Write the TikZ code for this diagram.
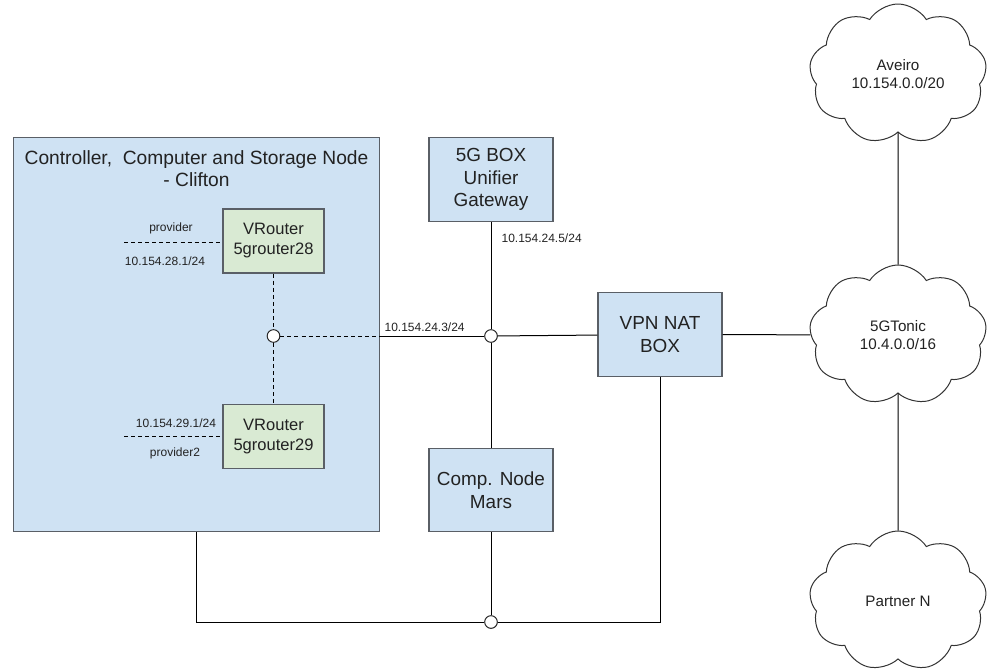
\documentclass[tikz,border=0pt]{standalone}
\usepackage{fontspec}
\setmainfont{Liberation Sans}
\usetikzlibrary{positioning, shapes.symbols, calc}

\definecolor{nodeblue}{HTML}{CFE2F3}
\definecolor{routergreen}{HTML}{D9EAD3}
\definecolor{boxgray}{HTML}{5A5F66}
\definecolor{textgray}{HTML}{222222}

\begin{document}
\begin{tikzpicture}[x=0.75pt, y=-0.75pt]

  % --- 定義樣式 ---
  \tikzset{
    % 主機方塊:藍底、灰框
    hostbox/.style={
      draw=boxgray,
      line width=0.9pt,
      fill=nodeblue,
      text=textgray,
      font=\fontsize{14.2}{17}\selectfont,
      align=center,
      minimum width=93pt,
      minimum height=62.5pt,
      inner sep=2pt
    },
    % 虛擬路由器:綠底
    routerbox/.style={
      hostbox,
      fill=routergreen,
      font=\fontsize{12.4}{15}\selectfont,
      minimum width=75.75pt,
      minimum height=48pt
    },
    % 外部網路雲
    cloudnet/.style={
      cloud,
      cloud puffs=9,
      cloud puff arc=115,
      cloud ignores aspect,
      draw=black!80,
      line width=0.75pt,
      fill=white,
      text=textgray,
      font=\fontsize{11.4}{13.8}\selectfont,
      align=center,
      minimum width=133pt,
      minimum height=105pt
    },
    % 線路交會點的小圓圈
    junction/.style={
      circle,
      draw=black!85,
      line width=0.75pt,
      fill=white,
      minimum size=9.5pt,
      inner sep=0pt
    },
    % IP 位址與介面名稱
    iplabel/.style={
      text=textgray,
      font=\fontsize{9}{10}\selectfont,
      inner sep=1pt
    },
    link/.style={draw=black, line width=0.75pt},
    vlan/.style={link, dash pattern=on 3pt off 2.3pt}
  }

  \useasboundingbox (0,0) rectangle (987,671);

  % --- 控制節點大框 ---
  \node[hostbox, minimum width=275pt, minimum height=295.5pt] (clifton) at (196.5,334.5) {};
  \node[text=textgray, font=\fontsize{14.4}{16.5}\selectfont, align=center, inner sep=0pt,
        below=10pt of clifton.north] (cliftontitle) {Controller,\ \ Computer and Storage Node\\- Clifton};

  % --- 兩台虛擬路由器 ---
  \node[routerbox] (vr28) at (273.5,241) {VRouter\\5grouter28};
  \node[routerbox, below=98pt of vr28] (vr29) {VRouter\\5grouter29};

  % --- 其他主機 ---
  \node[hostbox] (fiveg) at (491,179.5) {5G BOX\\Unifier\\Gateway};
  \node[hostbox] (mars) at (491,490) {Comp. Node\\Mars};
  \node[hostbox] (vpn) at (660,334.5) {VPN NAT\\BOX};

  % --- 外部網路 ---
  \node[cloudnet] (aveiro) at (898,74) {Aveiro\\10.154.0.0/20};
  \node[cloudnet] (tonic) at (898,335) {5GTonic\\10.4.0.0/16};
  \node[cloudnet] (partner) at (898,601) {Partner N};

  % --- 交會點 ---
  \node[junction] (jleft) at (273.5,336) {};
  \node[junction] (jmid) at (491,336) {};
  \node[junction] (jbot) at (491,622) {};

  % provider 網路的線頭
  \coordinate (prov28) at (124,242);
  \coordinate (prov29) at (124,436);

  % --- 位址標籤 ---
  \node[iplabel] (lblprov) at (171,228) {provider};
  \node[iplabel] (lbl28) at (165,261) {10.154.28.1/24};
  \node[iplabel] (lbl29) at (176,423) {10.154.29.1/24};
  \node[iplabel] (lblprov2) at (175,453) {provider2};
  \node[iplabel, anchor=west] (lbl243) at (383,327) {10.154.24.3/24};
  \node[iplabel, anchor=west] (lbl245) at (500,238) {10.154.24.5/24};

  % --- 虛線:內部網路 ---
  \draw[vlan] (prov28) -- (prov28 -| vr28.west);
  \draw[vlan] (prov29) -- (prov29 -| vr29.west);
  \draw[vlan] (vr28) -- (jleft) -- (vr29);
  \draw[vlan] (jleft) -- (jleft -| clifton.east);

  % --- 實線:10.154.24.0/24 網段 ---
  \draw[link] (jleft -| clifton.east) -- (jmid);
  \draw[link] (fiveg) -- (jmid) -- (mars);
  \draw[link] (jmid) -- (vpn);
  \draw[link] (vpn) -- (tonic);
  \draw[link] (aveiro) -- (tonic) -- (partner);

  % --- 底部管理網路 ---
  \draw[link] (clifton.south) -- (clifton.south |- jbot) -- (jbot);
  \draw[link] (jbot) -- (jbot -| vpn.south) -- (vpn.south);
  \draw[link] (mars) -- (jbot);

\end{tikzpicture}
\end{document}
